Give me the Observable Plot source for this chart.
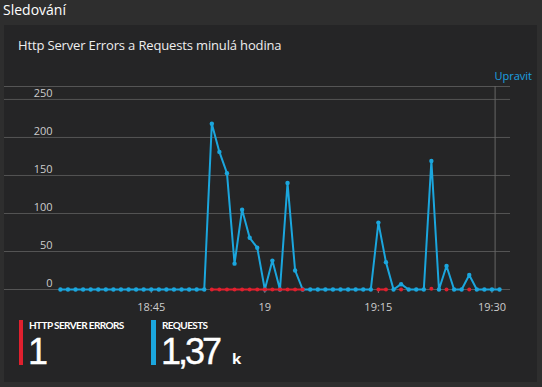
<!DOCTYPE html>
<html><head><meta charset="utf-8">
<script src="https://cdn.jsdelivr.net/npm/d3@7"></script>
<script src="https://cdn.jsdelivr.net/npm/@observablehq/plot@0.6"></script>
<style>
html,body{margin:0;padding:0;width:542px;height:387px;overflow:hidden;background:#2e2e2e;font-family:"Open Sans",sans-serif}
#panel{position:absolute;left:4px;top:25px;width:533px;height:357px;background:#252526}
.t{position:absolute;white-space:nowrap;line-height:1}
#chart{position:absolute;left:0;top:80px}
.bar{position:absolute}
.lab{font-family:Lato,sans-serif;font-size:10px;font-weight:700;color:#fff;top:320.1px;letter-spacing:-0.6px}
.num{font-family:"Liberation Sans",Arial,sans-serif;font-size:36px;color:#fff;top:333.5px;letter-spacing:-3px;-webkit-text-stroke:0.4px #fff}
</style></head>
<body>
<div id="panel"></div>
<div class="t" style="left:3px;top:2.6px;font-size:14px;color:#fff">Sledování</div>
<div class="t" style="left:18px;top:38.5px;font-size:13px;letter-spacing:-0.15px;color:#eee">Http Server Errors a Requests minulá hodina</div>
<div class="t" style="right:10px;top:69.5px;font-size:11px;color:#1ba1e2">Upravit</div>
<div id="chart"></div>
<div class="bar" style="left:19px;top:320px;width:4px;height:45px;background:#e0202e"></div>
<div class="t lab" id="errLabel" style="left:29px"></div>
<div class="t num" id="errTotal" style="left:28px"></div>
<div class="bar" style="left:151px;top:320px;width:5px;height:45px;background:#1ba6dd"></div>
<div class="t lab" id="reqLabel" style="left:162px"></div>
<div class="t num" id="reqTotal" style="left:161px"></div>
<div class="t" id="reqUnit" style="left:232px;top:350.7px;font-size:15px;font-weight:700;color:#fff"></div>
<script>
const times = ["18:33","18:34","18:35","18:36","18:37","18:38","18:39","18:40","18:41","18:42",
"18:43","18:44","18:45","18:46","18:47","18:48","18:49","18:50","18:51","18:52",
"18:53","18:54","18:55","18:56","18:57","18:58","18:59",
"19:00","19:01","19:02","19:03","19:04","19:05",
"19:06","19:07","19:08","19:09","19:10","19:11","19:12","19:13","19:14",
"19:15","19:16","19:17","19:18","19:19","19:20","19:21","19:22","19:23","19:24","19:25","19:26","19:27","19:28","19:29","19:30","19:31"];
const requests = [0,0,0,0,0,0,0,0,0,0,
0,0,0,0,0,0,0,0,0,0,
218,181,153,34,105,68,55,
0,38,0,140,25,0,
0,0,0,0,0,0,0,0,0,
88,36,0,7,0,0,0,169,0,31,0,0,19,0,0,0,0];
const errors = [null,null,null,null,null,null,null,null,null,null,
null,null,null,null,null,null,null,null,null,null,
0,0,0,0,0,0,0,
0,0,0,0,0,0,
null,null,null,null,null,null,null,null,null,
0,0,null,0,null,null,null,1,null,0,null,null,0,null,null,null,null];
const yTicks = [0,50,100,150,200,250];
const yMax = 267;
const xTicks = ["18:45","19:00","19:15","19:30"];
const xDomain = ["18:25:37","19:32:27"];
const nowTime = "19:30:25";
const seriesNames = ["HTTP SERVER ERRORS","REQUESTS"];
const colors = {errors:"#e0202e", requests:"#1ba6dd"};

const toDate = s => { const [h,m,sec] = s.split(":").map(Number); return new Date(2020,0,1,h,m,sec||0); };
const data = times.map((t,i) => ({time: toDate(t), requests: requests[i], errors: errors[i] == null ? NaN : errors[i]}));
const errData = data.filter(d => !isNaN(d.errors));

const fmt = d => d.getMinutes() === 0 ? String(d.getHours()) : d3.timeFormat("%H:%M")(d);

const chart = Plot.plot({
  width: 542, height: 235,
  marginLeft: 4, marginRight: 32, marginTop: 6, marginBottom: 26,
  style: {background: "transparent", color: "#ccc", fontFamily: "'Open Sans', sans-serif", fontSize: "11px"},
  x: {type: "time", domain: xDomain.map(toDate)},
  y: {domain: [0, yMax]},
  marks: [
    Plot.gridY(yTicks, {stroke: "#555", strokeOpacity: 1}),
    Plot.ruleY([yMax], {stroke: "#555"}),
    Plot.ruleX([toDate(nowTime)], {stroke: "#666"}),
    Plot.axisY(yTicks, {anchor: "left", tickSize: 0, tickPadding: 0, dx: 48, dy: -6, fill: "#ccc", label: null}),
    Plot.axisX(xTicks.map(toDate), {anchor: "bottom", tickSize: 4, tickPadding: 10, stroke: "#777", fill: "#ccc", tickFormat: fmt, label: null}),
    Plot.line(data, {x: "time", y: "requests", stroke: colors.requests, strokeWidth: 2}),
    Plot.dot(data, {x: "time", y: "requests", r: 2.2, fill: colors.requests}),
    Plot.line(data, {x: "time", y: "errors", stroke: colors.errors, strokeWidth: 2}),
    Plot.dot(errData, {x: "time", y: "errors", r: 2, fill: colors.errors})
  ]
});
document.getElementById("chart").appendChild(chart);

document.getElementById("errLabel").textContent = seriesNames[0];
document.getElementById("reqLabel").textContent = seriesNames[1];
const errSum = d3.sum(errors);
const reqSum = d3.sum(requests);
document.getElementById("errTotal").textContent = String(errSum);
document.getElementById("reqTotal").textContent = (reqSum/1000).toFixed(2).replace(".", ",");
document.getElementById("reqUnit").textContent = "k";
</script>
</body></html>
